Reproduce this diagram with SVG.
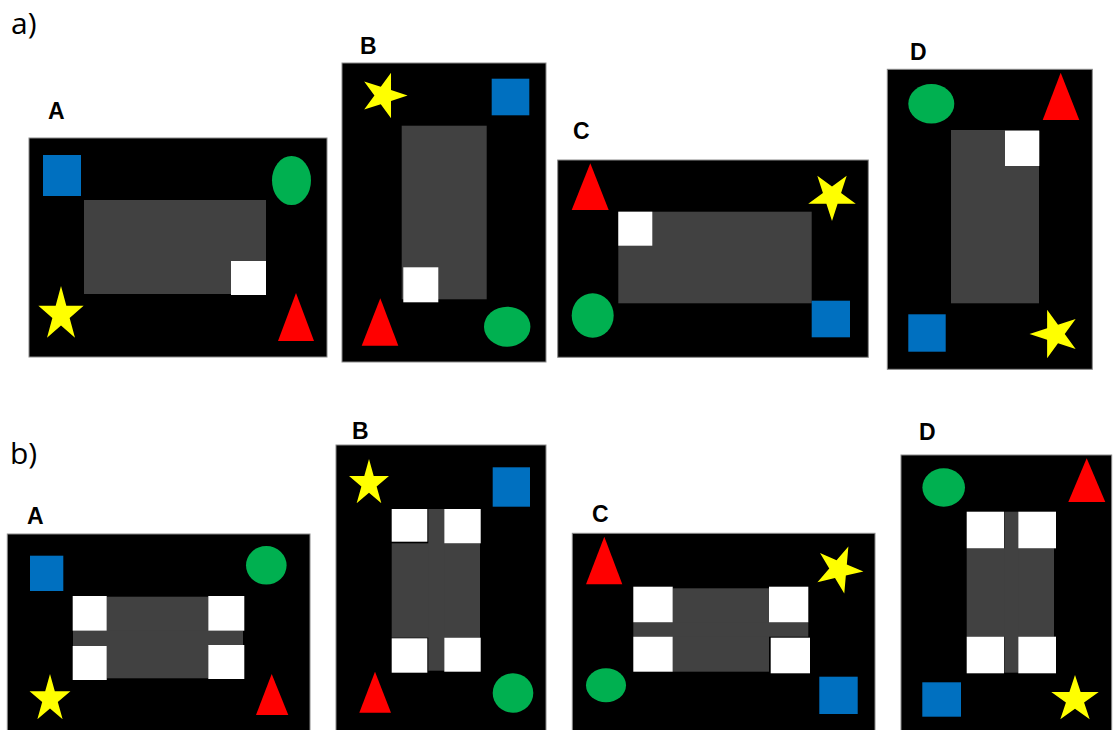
<svg xmlns="http://www.w3.org/2000/svg" xmlns:xlink="http://www.w3.org/1999/xlink" width="1116" height="730" viewBox="0 0 1116 730">
<style>
.bg{fill:#000;stroke:#8a8a8a;stroke-width:1}
.body{fill:#414141}
.wh{fill:#fff}
.bl{fill:#0070C0}
.gr{fill:#00B050}
.rd{fill:#FF0000}
.yl{fill:#FFFF00}
.lbl{font-family:"Liberation Sans",Arial,sans-serif;font-weight:bold;font-size:23px;fill:#000}
.sec{font-family:"Open Sans","Noto Sans",sans-serif;font-size:30px;fill:#000}
</style>
<defs>
<polygon id="star" points="0,-1 0.2245,-0.309 0.951,-0.309 0.363,0.118 0.588,0.809 0,0.382 -0.588,0.809 -0.363,0.118 -0.951,-0.309 -0.2245,-0.309"/>
</defs>
<rect width="1116" height="730" fill="#fff"/>
<text class="sec" x="11" y="34">a)</text>
<text class="sec" x="10" y="463.5">b)</text>

<g id="a-A">
<text class="lbl" x="48" y="119">A</text>
<rect class="bg" x="29" y="138" width="298" height="219"/>
<rect class="bl" x="43" y="155" width="38" height="41"/>
<ellipse class="gr" cx="291.5" cy="180.5" rx="19.5" ry="24.5"/>
<rect class="body" x="84" y="200" width="182" height="94"/>
<rect class="wh" x="231" y="261" width="35" height="34"/>
<use xlink:href="#star" class="yl" transform="translate(61,314.6) scale(23.8,28.6)"/>
<polygon class="rd" points="296,293 314,341 278,341"/>
</g>

<g id="a-B">
<text class="lbl" x="360" y="54">B</text>
<rect class="bg" x="342" y="63" width="204" height="299"/>
<use xlink:href="#star" class="yl" transform="translate(383.6,95.5) rotate(90) scale(24)"/>
<rect class="bl" x="491.7" y="78.7" width="37.6" height="36.6"/>
<rect class="body" x="401.7" y="125.7" width="85" height="173.6"/>
<rect class="wh" x="403.3" y="267.3" width="35" height="35"/>
<polygon class="rd" points="380.3,298.3 398.3,345.7 361.7,345.7"/>
<ellipse class="gr" cx="507.2" cy="326.7" rx="23.2" ry="20"/>
</g>

<g id="a-C">
<text class="lbl" x="573" y="139">C</text>
<rect class="bg" x="557.7" y="160" width="310.6" height="197.3"/>
<polygon class="rd" points="590.3,163.3 608.7,210 571.7,210"/>
<use xlink:href="#star" class="yl" transform="translate(832,196) rotate(180) scale(25)"/>
<rect class="body" x="618.3" y="211.7" width="193.4" height="91.6"/>
<rect class="wh" x="618.3" y="211.7" width="34" height="34"/>
<ellipse class="gr" cx="592.7" cy="315.5" rx="21" ry="22.2"/>
<rect class="bl" x="811.7" y="300.7" width="38.3" height="36.6"/>
</g>

<g id="a-D">
<text class="lbl" x="910" y="60">D</text>
<rect class="bg" x="887.3" y="69.3" width="205" height="300"/>
<ellipse class="gr" cx="931.3" cy="103.7" rx="23" ry="19.7"/>
<polygon class="rd" points="1060.7,72.7 1079.3,120 1042.7,120"/>
<rect class="body" x="951" y="130" width="88" height="173.3"/>
<rect class="wh" x="1005" y="130.7" width="34.3" height="35.3"/>
<rect class="bl" x="908.3" y="314.3" width="37.4" height="37.4"/>
<use xlink:href="#star" class="yl" transform="translate(1055,334) rotate(-90) scale(25.5)"/>
</g>

<g id="b-A">
<text class="lbl" x="27" y="524">A</text>
<rect class="bg" x="7.3" y="534" width="302.7" height="200"/>
<rect class="bl" x="30" y="555.7" width="33.3" height="35.3"/>
<ellipse class="gr" cx="266.3" cy="565.3" rx="20.3" ry="19.3"/>
<rect class="body" x="106.7" y="596.7" width="101.6" height="81.6"/>
<rect class="body" x="73" y="630.7" width="170" height="15.3"/>
<rect class="wh" x="72.7" y="596" width="34" height="34.7"/>
<rect class="wh" x="72.7" y="646" width="34" height="34"/>
<rect class="wh" x="208.3" y="596" width="36" height="34.7"/>
<rect class="wh" x="208.3" y="645" width="36" height="34"/>
<use xlink:href="#star" class="yl" transform="translate(50,699) scale(21.5,25)"/>
<polygon class="rd" points="271.7,674 288.3,715 256,715"/>
</g>

<g id="b-B">
<text class="lbl" x="352" y="439">B</text>
<rect class="bg" x="336" y="445" width="210" height="290"/>
<use xlink:href="#star" class="yl" transform="translate(369,483.5) scale(21,24.5)"/>
<rect class="bl" x="492.7" y="467.3" width="37.3" height="39.4"/>
<rect class="body" x="391.7" y="543.3" width="88.3" height="94.4"/>
<rect class="body" x="428.3" y="509" width="16" height="161.7"/>
<rect class="wh" x="391.7" y="509" width="35.6" height="32.7"/>
<rect class="wh" x="444.3" y="509" width="36.4" height="34.3"/>
<rect class="wh" x="391.7" y="638.3" width="35.6" height="34.4"/>
<rect class="wh" x="444.3" y="637.7" width="36.4" height="34"/>
<polygon class="rd" points="375,671.7 391,712.7 359.3,712.7"/>
<ellipse class="gr" cx="513" cy="693" rx="20.3" ry="19.7"/>
</g>

<g id="b-C">
<text class="lbl" x="592" y="522">C</text>
<rect class="bg" x="572.3" y="533.3" width="302.7" height="200"/>
<polygon class="rd" points="604.3,536.7 622.3,584.3 586,584.3"/>
<use xlink:href="#star" class="yl" transform="translate(838.7,569.4) rotate(95) scale(24.8)"/>
<rect class="body" x="672.7" y="588.3" width="96.3" height="83.4"/>
<rect class="body" x="633.3" y="622.3" width="175" height="14.4"/>
<rect class="wh" x="633.3" y="586.7" width="39.4" height="35.6"/>
<rect class="wh" x="633.3" y="636.7" width="39.4" height="35"/>
<rect class="wh" x="769" y="586.7" width="39.3" height="35.6"/>
<rect class="wh" x="770.7" y="637.7" width="39.3" height="35.6"/>
<ellipse class="gr" cx="606" cy="685.3" rx="20" ry="17"/>
<rect class="bl" x="819.3" y="676.7" width="38.4" height="37.3"/>
</g>

<g id="b-D">
<text class="lbl" x="919" y="440">D</text>
<rect class="bg" x="901" y="455" width="210.7" height="280"/>
<ellipse class="gr" cx="943.7" cy="487.5" rx="21.3" ry="19.2"/>
<polygon class="rd" points="1086.7,458.3 1105.3,502 1068.3,502"/>
<rect class="body" x="966.7" y="548.3" width="87.3" height="88.4"/>
<rect class="body" x="1004.3" y="511.7" width="14" height="161"/>
<rect class="wh" x="966.7" y="511.7" width="37.3" height="36.6"/>
<rect class="wh" x="1018.3" y="511.7" width="37.7" height="36.6"/>
<rect class="wh" x="966.7" y="636.7" width="37.3" height="36.6"/>
<rect class="wh" x="1018.3" y="636.7" width="37.7" height="36.6"/>
<rect class="bl" x="922.3" y="682.3" width="38.7" height="34.4"/>
<use xlink:href="#star" class="yl" transform="translate(1075,699.5) scale(25,24.5)"/>
</g>
</svg>
